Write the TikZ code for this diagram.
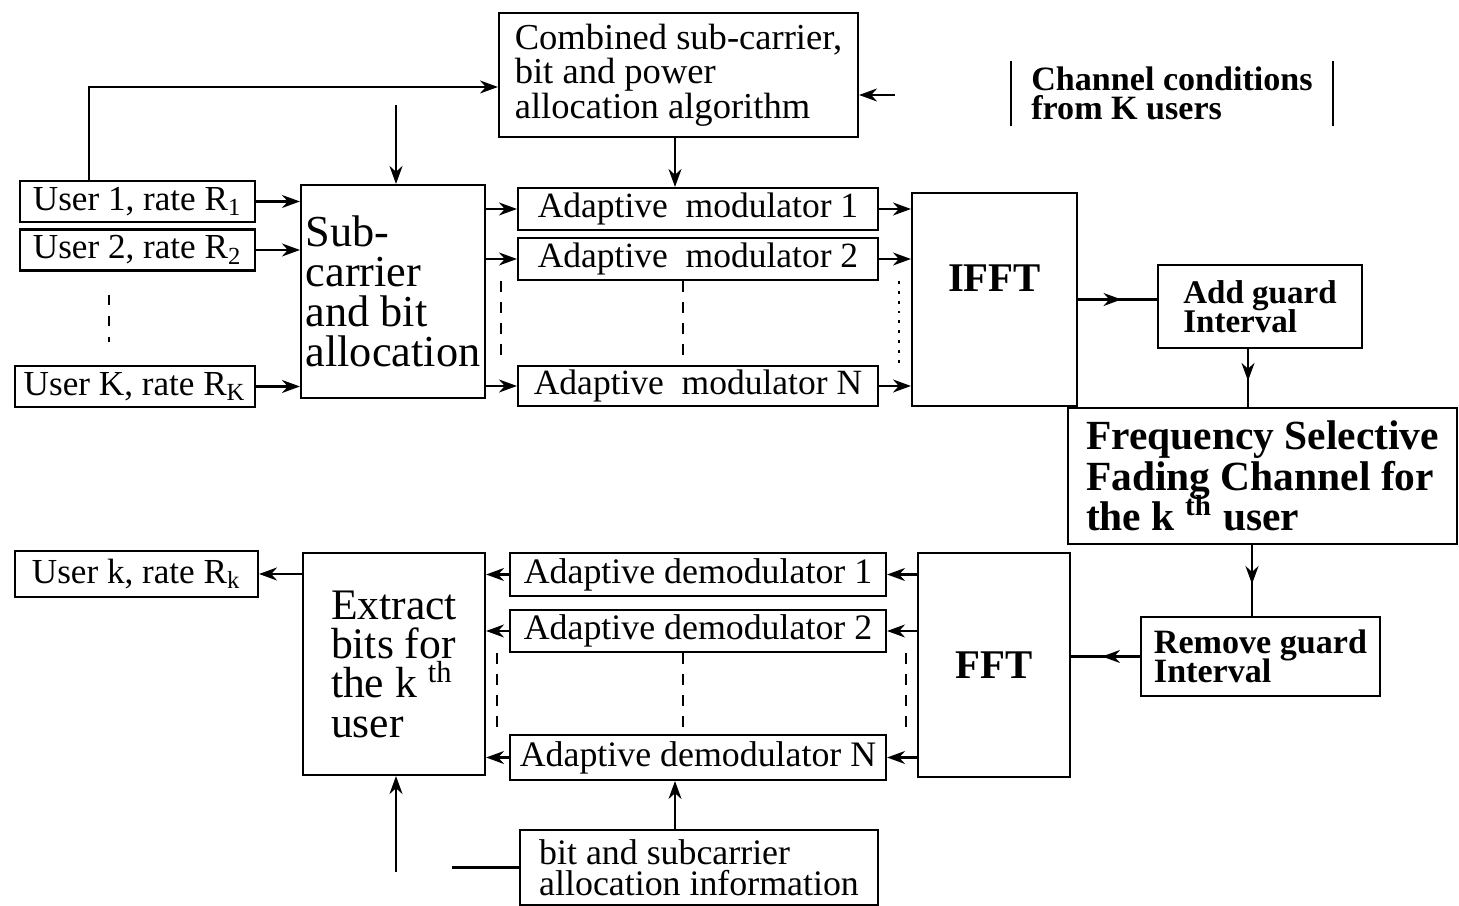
\documentclass[tikz,border=0pt]{standalone}
\usepackage{fontspec}
\setmainfont{Liberation Serif}
\usetikzlibrary{arrows.meta,decorations.markings}

\newcommand\tightlines{\lineskiplimit=-\maxdimen\lineskip=0pt}
\newcommand\fntA{\fontsize{10.4}{9.8}\selectfont\tightlines}
\newcommand\fntU{\fontsize{10}{10}\selectfont\tightlines}
\newcommand\fntM{\fontsize{10.1}{10}\selectfont\tightlines}
\newcommand\fntD{\fontsize{10.2}{10}\selectfont\tightlines}
\newcommand\fntB{\fontsize{12.6}{11.4}\selectfont\tightlines}
\newcommand\fntE{\fontsize{12.4}{11.2}\selectfont\tightlines}
\newcommand\fntF{\fontsize{11.6}{12}\selectfont\bfseries}
\newcommand\fntG{\fontsize{9.4}{8.4}\selectfont\bfseries\tightlines}
\newcommand\fntR{\fontsize{9.7}{8.4}\selectfont\bfseries\tightlines}
\newcommand\fntH{\fontsize{9.7}{8.4}\selectfont\bfseries\tightlines}
\newcommand\fntX{\fontsize{11.8}{11.6}\selectfont\bfseries\tightlines}
\newcommand\fntI{\fontsize{10.2}{8.8}\selectfont\tightlines}

\begin{document}
\begin{tikzpicture}[x=0.1mm, y=-0.1mm,
    >={Stealth[length=1.8mm,width=1.3mm]},
    blk/.style={draw, semithick, align=left, inner sep=0pt},
    arr/.style={->, semithick},
    midarr/.style={semithick, postaction={decorate},
        decoration={markings, mark=at position .55 with {\arrow{>}}}},
    gap/.style={dashed, semithick}]

\useasboundingbox (0,0) rectangle (1459,906);

%% ---- Allocation algorithm (top) ----
\node[blk, minimum width=35.9mm, minimum height=12.4mm, font=\fntA]
    (algo) at (678.5,75) {Combined sub-carrier,\\bit and power\\allocation algorithm};
\node[align=left, inner sep=0pt, minimum width=32mm, minimum height=6.3mm, font=\fntH]
    (chan) at (1172,93.5) {Channel conditions\\from K users};
\draw[semithick] (chan.north west) -- (chan.south west);
\draw[semithick] (chan.north east) -- (chan.south east);

%% ---- Transmitter ----
\node[blk, minimum width=23.5mm, minimum height=4.1mm, font=\fntU]
    (user1) at (137.5,201.5) {User 1, rate R\textsubscript{1}};
\node[blk, minimum width=23.5mm, minimum height=4.1mm, font=\fntU]
    (user2) at (137.5,250) {User 2, rate R\textsubscript{2}};
\node[blk, minimum width=24mm, minimum height=4.1mm, font=\fntU]
    (userK) at (135,386.5) {User K, rate R\textsubscript{K}};
\node[blk, minimum width=18.4mm, minimum height=21.3mm, font=\fntB]
    (alloc) at (393,291.5) {Sub-\\carrier\\and bit\\allocation};
\node[blk, minimum width=36mm, minimum height=4.2mm, font=\fntM]
    (mod1) at (698,209) {Adaptive\ \ modulator 1};
\node[blk, minimum width=36mm, minimum height=4.2mm, font=\fntM]
    (mod2) at (698,259) {Adaptive\ \ modulator 2};
\node[blk, minimum width=36mm, minimum height=4.0mm, font=\fntM]
    (modN) at (698,386) {Adaptive\ \ modulator N};
\node[blk, minimum width=16.5mm, minimum height=21.3mm, font=\fntF]
    (ifft) at (994.5,299.5) {IFFT\\[0mm]};
\node[blk, minimum width=20.4mm, minimum height=8.3mm, font=\fntG]
    (guard) at (1260,306.5) {Add guard\\Interval};

%% ---- Channel ----
\node[blk, minimum width=38.9mm, minimum height=13.6mm, font=\fntX]
    (fading) at (1262.5,476) {Frequency Selective\\Fading Channel for\\the k \textsuperscript{th} user};

%% ---- Receiver ----
\node[blk, minimum width=23.9mm, minimum height=7.9mm, font=\fntR]
    (rmguard) at (1260.5,656.5) {Remove guard\\Interval};
\node[blk, minimum width=15.2mm, minimum height=22.4mm, font=\fntF]
    (fft) at (994,665) {FFT};
\node[blk, minimum width=37.6mm, minimum height=4.3mm, font=\fntD]
    (demod1) at (698,574.5) {Adaptive demodulator 1};
\node[blk, minimum width=37.6mm, minimum height=4.2mm, font=\fntD]
    (demod2) at (698,631) {Adaptive demodulator 2};
\node[blk, minimum width=37.6mm, minimum height=4.5mm, font=\fntD]
    (demodN) at (698,757.5) {Adaptive demodulator N};
\node[blk, minimum width=18.2mm, minimum height=22.2mm, font=\fntE]
    (extract) at (394,664) {Extract\\bits for\\the k \textsuperscript{th}\\user};
\node[blk, minimum width=24.3mm, minimum height=4.6mm, font=\fntU]
    (userk) at (136.5,574) {User k, rate R\textsubscript{k}};
\node[blk, minimum width=35.8mm, minimum height=7.5mm, font=\fntI]
    (bitinfo) at (699,867.5) {bit and subcarrier\\allocation information};

%% ---- Connectors, top ----
\draw[arr] ([xshift=7mm]user1.north west) |- ([yshift=-1.2mm]algo.west);
\coordinate (allocin) at (396,105);
\draw[arr] (allocin) -- (allocin |- alloc.north);
\coordinate (chanout) at (895,95);
\draw[arr] (chanout) -- (chanout -| algo.east);
\draw[arr] ([xshift=-0.35mm]algo.south) -- ([xshift=-0.35mm]algo.south |- mod1.north);

%% ---- Connectors, transmitter ----
\foreach \u in {user1,user2,userK}
    \draw[arr] (\u.east) -- (\u.east -| alloc.west);
\foreach \m in {mod1,mod2,modN} {
    \draw[arr] (alloc.east |- \m.west) -- (\m.west);
    \draw[arr] (\m.east) -- (\m.east -| ifft.west);
}
\draw[gap, shorten >=2.3mm, shorten <=2.3mm]
    ([xshift=9mm]user2.south west) -- ([xshift=9mm]user2.south west |- userK.north);
\draw[gap] ([xshift=-1.6mm]mod2.south west) -- ([xshift=-1.6mm]modN.north west);
\draw[gap] ([xshift=-1.5mm]mod2.south) -- ([xshift=-1.5mm]modN.north);
\draw[dotted, thick] ([xshift=2mm]mod2.south east) -- ([xshift=2mm]modN.north east);
\draw[midarr] (ifft.east) -- (ifft.east -| guard.west);
\draw[midarr] ([xshift=-1.2mm]guard.south) -- ([xshift=-1.2mm]guard.south |- fading.north);

%% ---- Connectors, receiver ----
\draw[midarr] ([xshift=-0.85mm]rmguard.north |- fading.south) -- ([xshift=-0.85mm]rmguard.north);
\draw[midarr] (rmguard.west) -- (rmguard.west -| fft.east);
\foreach \d in {demod1,demod2,demodN} {
    \draw[arr] (fft.west |- \d.east) -- (\d.east);
    \draw[arr] (\d.west) -- (\d.west -| extract.east);
}
\draw[gap] ([xshift=-1.2mm]demod2.south west) -- ([xshift=-1.2mm]demodN.north west);
\draw[gap] ([xshift=-1.5mm]demod2.south) -- ([xshift=-1.5mm]demodN.north);
\draw[gap] ([xshift=1.9mm]demod2.south east) -- ([xshift=1.9mm]demodN.north east);
\draw[arr] (extract.west |- userk.east) -- (userk.east);
\draw[arr] ([xshift=-2.4mm]bitinfo.north) -- ([xshift=-2.4mm]bitinfo.north |- demodN.south);
\coordinate (extractin) at (396,872);
\draw[arr] (extractin) -- (extractin |- extract.south);
\coordinate (infoout) at (452,871);
\draw[semithick] (bitinfo.west) -- (bitinfo.west -| infoout);

\end{tikzpicture}
\end{document}
